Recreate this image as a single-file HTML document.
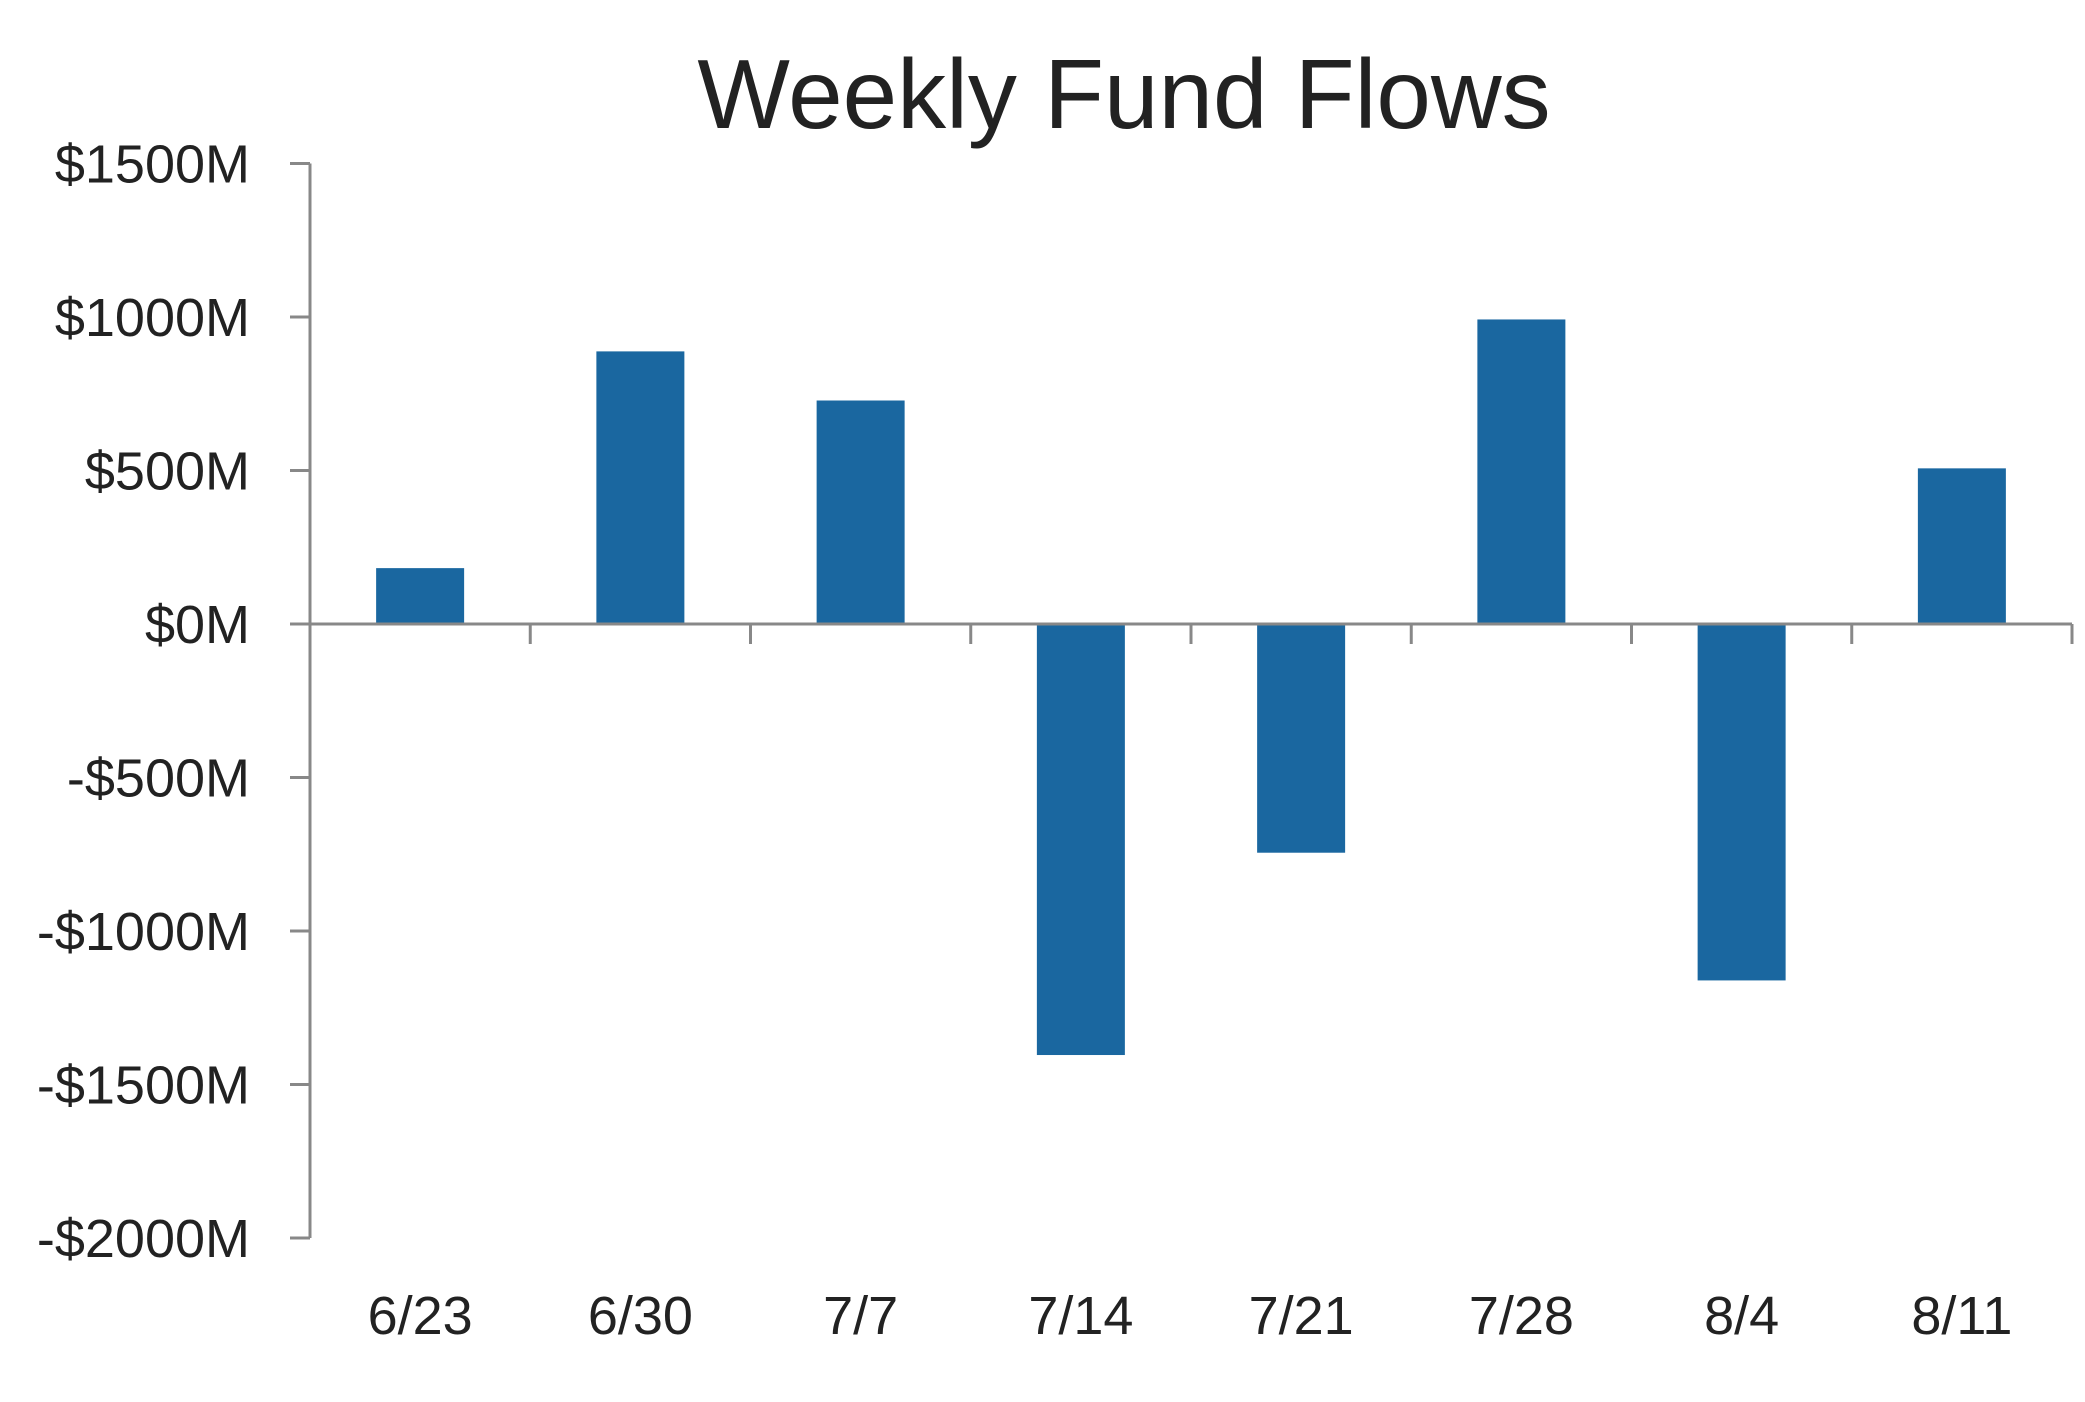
<!DOCTYPE html>
<html><head><meta charset="utf-8"><style>
body{margin:0;background:#fff}
svg text{font-family:"Liberation Sans",sans-serif;fill:#222}
</style></head><body>
<svg width="2085" height="1397" viewBox="0 0 2085 1397">
<text x="1124" y="128" text-anchor="middle" font-size="98">Weekly Fund Flows</text>
<g id="plot"></g>
</svg>
<script>
const categories = ["6/23","6/30","7/7","7/14","7/21","7/28","8/4","8/11"];
const flows = [182, 888, 728, -1404, -745, 992, -1161, 507];
const yTicks = [1500, 1000, 500, 0, -500, -1000, -1500, -2000];
const yTickLabels = ["$1500M","$1000M","$500M","$0M","-$500M","-$1000M","-$1500M","-$2000M"];

const NS = "http://www.w3.org/2000/svg";
const g = document.getElementById('plot');
const left = 310, right = 2072, zeroY = 624, per500 = 153.5;
const y = v => zeroY - v / 500 * per500;
const band = (right - left) / categories.length;
const x = i => left + band * i;
function mk(tag, attrs) { const e = document.createElementNS(NS, tag); for (const k in attrs) e.setAttribute(k, attrs[k]); g.appendChild(e); return e; }

flows.forEach((v, i) => {
  const cx = x(i) + band / 2;
  const r = mk('rect', {x: cx - 44, y: Math.min(y(v), zeroY), width: 88, height: Math.abs(y(v) - zeroY), fill: '#1a67a0'});
  
  
});

const ya = mk('line', {x1: left, x2: left, y1: y(1500), y2: y(-2000), stroke: '#888', 'stroke-width': 3});


const xa = mk('line', {x1: left, x2: right, y1: zeroY, y2: zeroY, stroke: '#888', 'stroke-width': 3});



yTicks.forEach((t, i) => {
  const tk = mk('line', {x1: left - 20, x2: left, y1: y(t), y2: y(t), stroke: '#888', 'stroke-width': 3});
  
  
  const tx = mk('text', {x: 250, y: y(t) + 19, 'text-anchor': 'end', 'font-size': 54});
  tx.textContent = yTickLabels[i];
  
  
});

categories.forEach((c, i) => {
  const tk = mk('line', {x1: x(i + 1), x2: x(i + 1), y1: zeroY, y2: zeroY + 20, stroke: '#888', 'stroke-width': 3});
  
  
  const tx = mk('text', {x: x(i) + band / 2, y: 1334, 'text-anchor': 'middle', 'font-size': 54});
  tx.textContent = c;
  
  
});
</script>
</body></html>
